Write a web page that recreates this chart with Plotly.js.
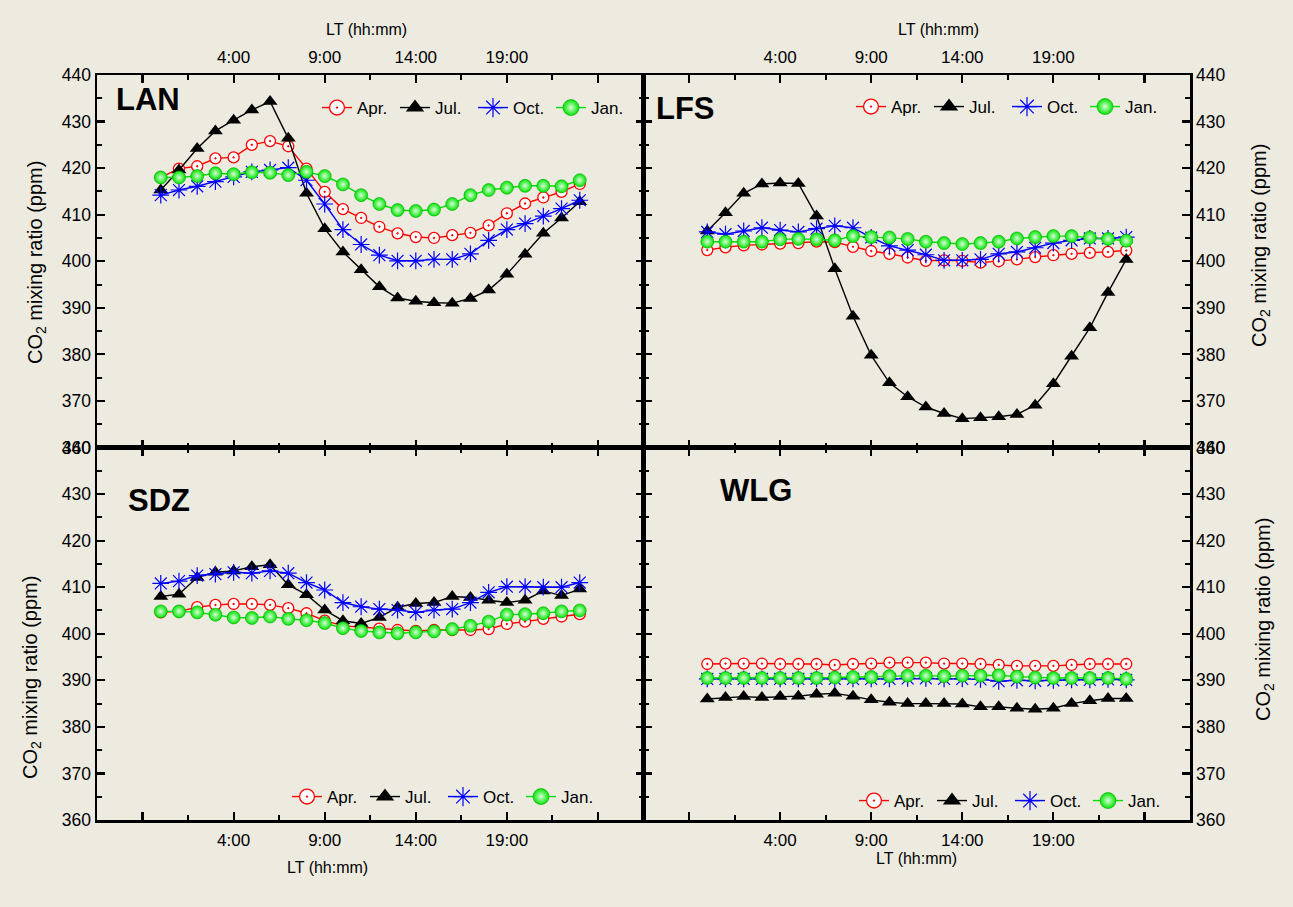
<!DOCTYPE html>
<html>
<head>
<meta charset="utf-8">
<script src="https://cdn.plot.ly/plotly-3.0.1.min.js"></script>
<style>html,body{margin:0;padding:0;background:#edebe0;}#chart{width:1293px;height:907px;}</style>
</head>
<body>
<div id="chart"></div>
<script>
// ---------------- data ----------------
const hours = [0,1,2,3,4,5,6,7,8,9,10,11,12,13,14,15,16,17,18,19,20,21,22,23];
const months = ['Apr.','Jul.','Oct.','Jan.'];
const xTickVals = [-1,4,9,14,19,24];
const xTickText = ['','4:00','9:00','14:00','19:00',''];
const yTickVals = [360,370,380,390,400,410,420,430,440];
const yTickText = ['360','370','380','390','400','410','420','430','440'];
const stations = ['LAN','LFS','SDZ','WLG'];

const LAN_Apr = [418.0,419.9,420.4,422.1,422.3,425.0,425.8,424.7,419.9,414.9,411.2,409.3,407.4,406.0,405.2,405.0,405.6,406.1,407.7,410.3,412.4,413.7,414.9,416.6];
const LAN_Jul = [415.3,419.6,424.2,428.0,430.3,432.5,434.3,426.4,414.6,407.0,402.0,398.2,394.5,392.1,391.4,391.1,391.0,392.0,393.8,397.2,401.5,406.0,409.3,412.8];
const LAN_Oct = [414.2,415.3,416.1,417.1,418.1,419.2,419.6,420.1,417.4,412.3,406.8,403.6,401.3,400.1,400.1,400.4,400.4,401.6,404.5,406.8,408.1,409.7,411.3,413.1];
const LAN_Jan = [418.0,418.0,418.3,418.9,418.7,419.1,419.0,418.5,419.2,418.3,416.5,414.2,412.3,411.0,410.8,411.1,412.3,414.2,415.3,415.8,416.2,416.2,416.1,417.4];

const LFS_Apr = [402.4,403.0,403.4,403.6,403.8,403.9,404.2,404.1,403.1,402.2,401.6,400.8,400.1,400.2,400.1,399.7,400.0,400.4,400.9,401.3,401.6,401.8,402.0,402.3];
const LFS_Jul = [406.5,410.4,414.6,416.6,416.8,416.7,409.7,398.4,388.2,379.8,373.9,370.9,368.7,367.3,366.2,366.4,366.6,367.1,369.1,373.7,379.6,385.7,393.3,400.4];
const LFS_Oct = [406.3,405.8,406.5,407.2,406.7,406.3,407.0,407.6,407.2,405.1,403.3,402.4,401.4,400.2,400.2,400.4,401.6,402.0,402.9,403.9,404.5,404.9,404.9,405.2];
const LFS_Jan = [404.2,404.2,404.2,404.2,404.7,404.8,404.7,404.5,405.4,405.2,405.1,404.8,404.2,403.9,403.7,403.9,404.2,404.9,405.2,405.4,405.4,405.1,404.8,404.4];

const SDZ_Apr = [404.6,404.8,405.7,406.2,406.4,406.4,406.2,405.5,404.4,402.8,401.7,401.4,401.1,400.8,400.6,400.8,400.8,400.8,401.0,402.1,402.6,403.2,403.7,404.2];
const SDZ_Jul = [408.0,408.5,412.1,413.2,413.5,414.4,414.8,410.5,408.4,405.1,402.8,402.2,403.5,405.7,406.5,406.7,408.0,407.8,407.2,406.7,407.2,409.2,408.2,409.6];
const SDZ_Oct = [410.8,411.3,412.5,412.8,413.2,413.0,413.5,413.0,411.0,409.4,406.7,405.8,405.3,405.1,404.6,405.1,405.3,406.7,408.9,410.1,410.1,410.0,410.0,411.0];
const SDZ_Jan = [404.8,404.8,404.6,404.1,403.5,403.4,403.7,403.2,402.9,402.3,401.2,400.6,400.3,400.1,400.3,400.5,401.0,401.7,402.6,404.1,404.2,404.4,404.8,405.0];

const WLG_Apr = [393.5,393.6,393.6,393.6,393.5,393.5,393.5,393.3,393.5,393.6,393.8,393.8,393.8,393.6,393.6,393.5,393.3,393.1,393.1,393.1,393.3,393.5,393.5,393.5];
const WLG_Jul = [386.0,386.3,386.5,386.3,386.5,386.6,387.0,387.2,386.6,385.8,385.3,385.0,385.0,385.0,384.9,384.3,384.3,384.0,383.8,384.0,385.0,385.6,386.1,386.1];
const WLG_Oct = [390.3,390.3,390.3,390.3,390.3,390.3,390.3,390.3,390.3,390.3,390.3,390.4,390.4,390.3,390.3,390.2,389.8,390.0,389.9,390.0,390.1,390.1,390.2,390.1];
const WLG_Jan = [390.5,390.5,390.5,390.5,390.5,390.5,390.5,390.6,390.7,390.7,390.9,391.0,391.0,390.9,391.0,391.0,391.1,390.8,390.6,390.5,390.5,390.5,390.5,390.3];

const seriesByStation = {
  LAN: [LAN_Apr, LAN_Jul, LAN_Oct, LAN_Jan],
  LFS: [LFS_Apr, LFS_Jul, LFS_Oct, LFS_Jan],
  SDZ: [SDZ_Apr, SDZ_Jul, SDZ_Oct, SDZ_Jan],
  WLG: [WLG_Apr, WLG_Jul, WLG_Oct, WLG_Jan]
};

// ---------------- styles ----------------
const FONT = 'Liberation Sans, Arial, sans-serif';
const BG = '#edebe0';
const W = 1293, H = 907, ML = 97, MR = 103, MT = 75, MB = 87;
const PW = W - ML - MR, PH = H - MT - MB;
const px2x = p => (p - ML) / PW;
const px2y = p => (H - MB - p) / PH;

const lineColors = ['#ff0000', '#000000', '#0000ff', '#00e000'];
function markerStyle(i, big) {
  const s = big ? 1.35 : 1;
  if (i === 0) return {symbol: 'circle-dot', size: 11 * s, color: '#ffffff', line: {color: '#ff0000', width: 1.3}};
  if (i === 1) return {symbol: 'triangle-up', size: 13 * s, color: '#000000', line: {color: '#000000', width: 0}};
  if (i === 2) return {symbol: 'asterisk-open', size: 14 * s, color: '#0000ff', line: {color: '#1a1aff', width: 1.2}};
  return {symbol: 'circle', size: 13 * s, color: '#00e400', gradient: {type: 'radial', color: '#d8ffd8'}, line: {color: '#00a800', width: 0.6}};
}

const traces = [];
const axisPairs = [['x', 'y'], ['x2', 'y2'], ['x3', 'y3'], ['x4', 'y4']];
const legendIds = ['legend', 'legend2', 'legend3', 'legend4'];
stations.forEach((st, k) => {
  const [xa, ya] = axisPairs[k];
  seriesByStation[st].forEach((vals, i) => {
    traces.push({
      type: 'scatter', mode: 'lines+markers', x: hours, y: vals,
      xaxis: xa, yaxis: ya, name: months[i], showlegend: false,
      line: {color: lineColors[i], width: 1.4},
      marker: markerStyle(i, false), cliponaxis: false
    });
  });
  // legend-only entries (larger symbols, as in the original legend)
  months.forEach((m, i) => {
    traces.push({
      type: 'scatter', mode: 'lines+markers', x: [null], y: [null],
      xaxis: xa, yaxis: ya, name: m, showlegend: true, legend: legendIds[k],
      line: {color: lineColors[i], width: 1.4},
      marker: markerStyle(i, true)
    });
  });
});

function xAxis(side, anchor) {
  return {
    range: [-3.5, 26.5], side: side, anchor: anchor,
    tickmode: 'array', tickvals: xTickVals, ticktext: xTickText,
    ticks: 'inside', ticklen: 8, tickwidth: 2.2, tickcolor: '#000',
    minor: {tickmode: 'array', tickvals: [1.5, 6.5, 11.5, 16.5, 21.5], ticks: 'inside', ticklen: 5, tickwidth: 2, tickcolor: '#000'},
    showline: true, linecolor: '#000', linewidth: 2.5, mirror: 'allticks',
    showgrid: false, zeroline: false, ticklabelstandoff: 3,
    tickfont: {family: FONT, size: 17, color: '#000'}
  };
}
function yAxis(side, anchor) {
  return {
    range: [360, 440], side: side, anchor: anchor,
    tickmode: 'array', tickvals: yTickVals, ticktext: yTickText,
    ticks: 'inside', ticklen: 8, tickwidth: 2.2, tickcolor: '#000',
    minor: {dtick: 5, tick0: 365, ticks: 'inside', ticklen: 5, tickwidth: 2, tickcolor: '#000'},
    showline: true, linecolor: '#000', linewidth: 2.5, mirror: 'allticks',
    showgrid: false, zeroline: false,
    tickfont: {family: FONT, size: 17.5, color: '#000'}
  };
}

const layout = {
  width: W, height: H,
  margin: {l: ML, r: MR, t: MT, b: MB, pad: 0},
  paper_bgcolor: BG, plot_bgcolor: BG,
  font: {family: FONT, size: 16, color: '#000'},
  xaxis: Object.assign(xAxis('top', 'y'), {domain: [0, 0.5]}),
  yaxis: Object.assign(yAxis('left', 'x'), {domain: [0.5, 1]}),
  xaxis2: Object.assign(xAxis('top', 'y2'), {domain: [0.5, 1]}),
  yaxis2: Object.assign(yAxis('right', 'x2'), {domain: [0.5, 1]}),
  xaxis3: Object.assign(xAxis('bottom', 'y3'), {domain: [0, 0.5]}),
  yaxis3: Object.assign(yAxis('left', 'x3'), {domain: [0, 0.5]}),
  xaxis4: Object.assign(xAxis('bottom', 'y4'), {domain: [0.5, 1]}),
  yaxis4: Object.assign(yAxis('right', 'x4'), {domain: [0, 0.5]}),
  annotations: [],
  showlegend: true
};

const legendPos = [[317, 108], [851, 107], [287, 797], [854, 801]];
legendIds.forEach((id, k) => {
  layout[id] = {
    orientation: 'h', x: px2x(legendPos[k][0]), y: px2y(legendPos[k][1]),
    xanchor: 'left', yanchor: 'middle', bgcolor: 'rgba(0,0,0,0)', borderwidth: 0,
    entrywidth: 33, entrywidthmode: 'pixels',
    font: {family: FONT, size: 17, color: '#000'}
  };
});

function ann(text, px, py, opts) {
  layout.annotations.push(Object.assign({
    text: text, xref: 'paper', yref: 'paper', x: px2x(px), y: px2y(py),
    showarrow: false, xanchor: 'center', yanchor: 'middle',
    font: {family: FONT, size: 16, color: '#000'}
  }, opts || {}));
}
// panel labels
const labelPos = [[114, 100], [654, 109], [126, 501], [718, 491]];
stations.forEach((st, k) => ann('<b>' + st + '</b>', labelPos[k][0], labelPos[k][1], {xanchor: 'left', font: {family: FONT, size: 31, color: '#000'}}));
// axis titles
ann('LT (hh:mm)', 366, 30);
ann('LT (hh:mm)', 938, 30);
ann('LT (hh:mm)', 327, 867);
ann('LT (hh:mm)', 916, 858);
const ytitle = 'CO<sub>2</sub> mixing ratio (ppm)';
const yFont = {family: FONT, size: 20, color: '#000'};
ann(ytitle, 36, 263, {textangle: -90, font: yFont});
ann(ytitle, 31, 678, {textangle: -90, font: yFont});
ann(ytitle, 1261, 246, {textangle: -90, font: yFont});
ann(ytitle, 1264, 620, {textangle: -90, font: yFont});

Plotly.newPlot('chart', traces, layout, {displayModeBar: false, staticPlot: true});
</script>
</body>
</html>
